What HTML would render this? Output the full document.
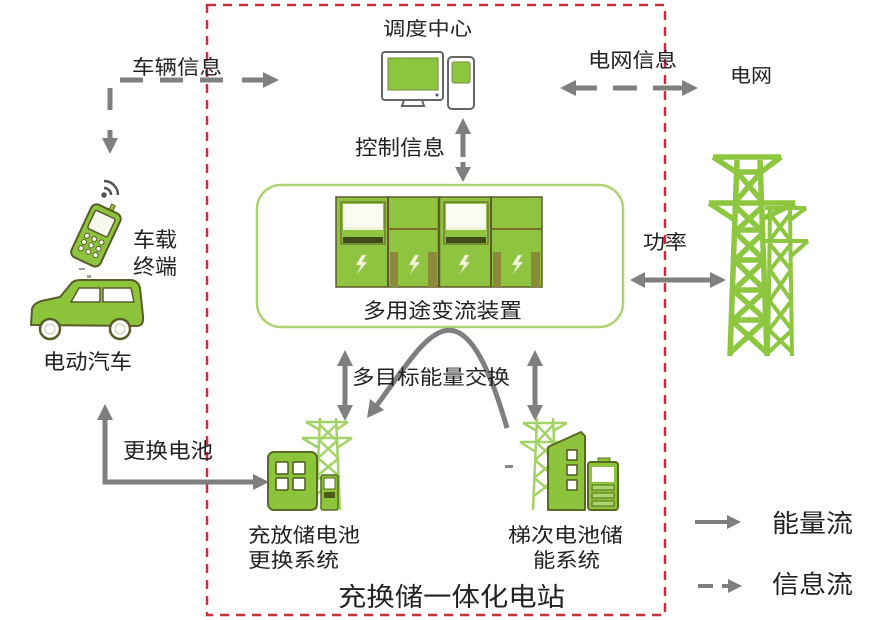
<!DOCTYPE html>
<html><head><meta charset="utf-8"><style>
html,body{margin:0;padding:0;background:#fff;}
svg{display:block;}
text{font-family:"Liberation Sans","Noto Sans CJK SC",sans-serif;fill:#222;}
</style></head><body>
<svg width="871" height="620" viewBox="0 0 871 620" xmlns="http://www.w3.org/2000/svg">
<rect width="871" height="620" fill="#fff"/>

<!-- red dashed station boundary -->
<rect x="207" y="5" width="458" height="610" fill="none" stroke="#c8323a" stroke-width="2.5" stroke-dasharray="9 7"/>

<!-- green rounded box -->
<rect x="257" y="185" width="366" height="142" rx="24" fill="none" stroke="#a9d46f" stroke-width="2.5"/>

<!-- cabinets -->
<g>
  <rect x="336" y="197" width="206" height="90" fill="#8fc441" stroke="#5e5a2a" stroke-width="1.5"/>
  <line x1="388" y1="197" x2="388" y2="287" stroke="#5e5a2a" stroke-width="2"/>
  <line x1="439" y1="197" x2="439" y2="287" stroke="#5e5a2a" stroke-width="2.5"/>
  <line x1="491" y1="197" x2="491" y2="287" stroke="#5e5a2a" stroke-width="2"/>
  <rect x="341" y="202" width="44" height="42" fill="#8fc441" stroke="#6b6a2c" stroke-width="1.2"/>
  <rect x="343" y="204" width="40" height="23" fill="#fbfbf3"/>
  <rect x="343" y="227" width="40" height="3" fill="#eef2d6"/>
  <rect x="343" y="237" width="40" height="6" fill="#3f4a18"/>
  <rect x="444" y="202" width="44" height="42" fill="#8fc441" stroke="#6b6a2c" stroke-width="1.2"/>
  <rect x="446" y="204" width="40" height="23" fill="#fbfbf3"/>
  <rect x="446" y="227" width="40" height="3" fill="#eef2d6"/>
  <rect x="446" y="237" width="40" height="6" fill="#3f4a18"/>
  <line x1="388" y1="229" x2="439" y2="229" stroke="#7a6a2a" stroke-width="2"/>
  <line x1="491" y1="229" x2="542" y2="229" stroke="#7a6a2a" stroke-width="2"/>
  <rect x="390" y="252" width="8" height="35" fill="#8a8a3a"/>
  <rect x="428" y="252" width="9" height="35" fill="#8a8a3a"/>
  <rect x="493" y="252" width="8" height="35" fill="#8a8a3a"/>
  <rect x="531" y="252" width="9" height="35" fill="#8a8a3a"/>
  <g fill="#f4f6dc" stroke="#c8cf9a" stroke-width="0.6">
    <polygon points="362,255 356,265 361,265 357,274 367,262 362,262 366,255"/>
    <polygon points="415,255 409,265 414,265 410,274 420,262 415,262 419,255"/>
    <polygon points="465,255 459,265 464,265 460,274 470,262 465,262 469,255"/>
    <polygon points="518,255 512,265 517,265 513,274 523,262 518,262 522,255"/>
  </g>
</g>

<!-- computer -->
<g stroke="#666" stroke-width="2" fill="#fff">
  <rect x="382" y="52" width="61" height="48" rx="3"/>
  <rect x="448" y="57" width="26" height="52" rx="4"/>
</g>
<rect x="388" y="58" width="50" height="32" fill="#8cc63f" stroke="#7a8a3a" stroke-width="1"/>
<circle cx="437" cy="95" r="1.5" fill="#555"/>
<polygon points="404,100 422,100 424,106 402,106" fill="#fff" stroke="#666" stroke-width="2"/>
<rect x="452" y="62" width="18" height="21" rx="2" fill="#8cc63f" stroke="#7a8a3a" stroke-width="1"/>

<!-- arrows (grey) -->
<g fill="#7f7f7f" stroke="none">
  <rect x="120" y="77.5" width="23" height="5"/>
  <rect x="160" y="77.5" width="23" height="5"/>
  <rect x="200" y="77.5" width="23" height="5"/>
  <rect x="242" y="77.5" width="22" height="5"/>
  <polygon points="279,80 263,72 263,88"/>
  <rect x="107.5" y="88" width="5" height="22"/>
  <rect x="107.5" y="130" width="5" height="9"/>
  <polygon points="110,154 102,138 118,138"/>
  <polygon points="560,88 576,80 576,96"/>
  <rect x="575" y="85.5" width="22" height="5"/>
  <rect x="613" y="85.5" width="24" height="5"/>
  <rect x="653" y="85.5" width="30" height="5"/>
  <polygon points="698,88 682,80 682,96"/>
  <polygon points="463,118 455,134 471,134"/>
  <rect x="460.5" y="133" width="5" height="24"/>
  <rect x="460.5" y="162" width="5" height="6"/>
  <polygon points="463,182 455,167 471,167"/>
  <polygon points="630,280 645,272 645,288"/>
  <rect x="644" y="277.5" width="67" height="5"/>
  <polygon points="726,280 710,272 710,288"/>
  <polygon points="345,350 337,366 353,366"/>
  <rect x="342.5" y="365" width="5" height="41"/>
  <polygon points="345,421 337,405 353,405"/>
  <polygon points="535,350 527,366 543,366"/>
  <rect x="532.5" y="365" width="5" height="41"/>
  <polygon points="535,421 527,405 543,405"/>
  <polygon points="105,404 97,420 113,420"/>
  <polygon points="269,482 253,474 253,490"/>
  <polygon points="367,418 384,410 370,399"/>
  <rect x="695" y="520" width="33" height="4"/>
  <polygon points="741,522 727,515 727,529"/>
  <rect x="698" y="584" width="15" height="4"/>
  <rect x="722" y="584" width="7" height="4"/>
  <polygon points="742,586 728,579 728,593"/>
</g>
<path d="M105,419 L105,482 L254,482" fill="none" stroke="#7f7f7f" stroke-width="5"/>
<path d="M507,428 C460,265 425,341 377,405" fill="none" stroke="#7f7f7f" stroke-width="5"/>
<rect x="505" y="465" width="8" height="3" fill="#8a8a8a"/>

<!-- small towers -->
<g stroke="#a3d266" stroke-width="2.5" fill="none">
  <path d="M320,418 L316,510 M336,418 L340,510"/>
  <path d="M306,422 L348,422 M302,438 L352,438 M306,422 L320,430 M348,422 L336,430 M302,438 L319,448 M352,438 L337,448"/>
  <path d="M320,425 L336,440 M336,425 L320,440 M319,440 L338,458 M338,440 L318,458 M318,458 L339,476 M339,458 L317,476 M317,476 L340,494 M340,476 L317,494"/>
  <path d="M537,418 L533,510 M553,418 L557,510"/>
  <path d="M523,423 L567,423 M520,442 L570,442 M523,423 L537,431 M567,423 L553,431 M520,442 L536,452 M570,442 L554,452"/>
  <path d="M537,425 L553,442 M553,425 L537,442 M536,442 L555,460 M555,442 L535,460 M535,460 L556,478 M556,460 L534,478 M534,478 L557,496 M557,478 L534,496"/>
</g>

<!-- left building -->
<rect x="268" y="452" width="49" height="58" rx="6" fill="#8cc43c" stroke="#5a6a20" stroke-width="2"/>
<g fill="#fff" stroke="#4d5a1c" stroke-width="1.5">
  <rect x="276" y="462" width="12" height="12" rx="1"/>
  <rect x="293" y="462" width="12" height="12" rx="1"/>
  <rect x="276" y="478" width="12" height="12" rx="1"/>
  <rect x="293" y="478" width="12" height="12" rx="1"/>
</g>
<rect x="321" y="475" width="17" height="35" rx="2" fill="#8cc43c" stroke="#5a6a20" stroke-width="1.5"/>
<rect x="324" y="478" width="11" height="11" fill="#fff" stroke="#5a6a20" stroke-width="1"/>
<rect x="324" y="492" width="11" height="6" fill="#4d5a1c"/>

<!-- right building & battery -->
<polygon points="548,447 581,432 585,436 585,510 548,510" fill="#8cc43c" stroke="#5a6a20" stroke-width="2" stroke-linejoin="round"/>
<g fill="#fff" stroke="#4d5a1c" stroke-width="1.5">
  <rect x="567" y="450" width="10" height="10"/>
  <rect x="567" y="465" width="10" height="10"/>
  <rect x="567" y="480" width="10" height="10"/>
</g>
<rect x="598" y="458" width="12" height="5" fill="#8cc43c" stroke="#5a6a20" stroke-width="1"/>
<rect x="588" y="462" width="30" height="48" rx="3" fill="#8cc43c" stroke="#5a6a20" stroke-width="2"/>
<rect x="592" y="467" width="22" height="15" fill="#fff"/>
<g fill="#a8d66a" stroke="#5a6a20" stroke-width="1">
  <rect x="592" y="485" width="22" height="5"/>
  <rect x="592" y="493" width="22" height="5"/>
  <rect x="592" y="501" width="22" height="5"/>
</g>

<!-- big towers -->
<g stroke="#8dc63f" stroke-width="5.5" fill="none" stroke-linejoin="round">
  <path d="M737,160 L730,356 M760,160 L767,356"/>
  <path d="M713,157 L781,157 M713,157 L736,172 M781,157 L761,172"/>
  <path d="M709,203 L795,203 M709,203 L735,220 M795,203 L764,218"/>
  <path d="M736,172 L761,172 M735,230 L763,230 M734,260 L764,260 M733,290 L765,290 M731,320 L766,320"/>
  <path d="M737,172 L761,200 M761,172 L737,200 M735,206 L763,232 M763,206 L735,232 M735,232 L764,260 M764,232 L735,260 M734,260 L765,290 M765,260 L734,290 M733,290 L766,320 M766,290 L733,320 M731,320 L766,352 M766,320 L731,352"/>
</g>
<g stroke="#8dc63f" stroke-width="4" fill="none">
  <path d="M770,210 L768,356 M790,210 L792,356"/>
  <path d="M765,208 L806,208 M806,208 L790,220 M765,241 L808,241 M808,241 L791,256"/>
  <path d="M770,214 L790,240 M790,214 L770,240 M770,244 L791,270 M791,244 L770,270 M770,270 L791,300 M791,270 L770,300 M769,300 L792,330 M792,300 L769,330 M769,330 L792,352 M792,330 L769,352"/>
</g>

<!-- wifi -->
<g stroke="#555" stroke-width="2.5" fill="none">
  <circle cx="104" cy="195" r="1.5" fill="#555"/>
  <path d="M104,188 A7,7 0 0 1 111,195"/>
  <path d="M104,181 A14,14 0 0 1 118,195"/>
</g>
<!-- phone -->
<g transform="rotate(25 95 235)">
  <rect x="97" y="200" width="4" height="8" fill="#8cc43c" stroke="#5a5a28" stroke-width="1"/>
  <rect x="80" y="206" width="32" height="58" rx="6" fill="#8cc43c" stroke="#5a5a28" stroke-width="2"/>
  <rect x="85" y="212" width="22" height="20" rx="2" fill="#f6f8ee" stroke="#5a5a28" stroke-width="1.5"/>
  <g fill="#f6f8ee" stroke="#5a5a28" stroke-width="1">
    <circle cx="88" cy="239" r="2.5"/><circle cx="96" cy="239" r="2.5"/><circle cx="104" cy="239" r="2.5"/>
    <circle cx="88" cy="246" r="2.5"/><circle cx="96" cy="246" r="2.5"/><circle cx="104" cy="246" r="2.5"/>
    <circle cx="88" cy="253" r="2.5"/><circle cx="96" cy="253" r="2.5"/><circle cx="104" cy="253" r="2.5"/>
  </g>
</g>
<rect x="79" y="268" width="6" height="2" fill="#a0a0a0"/>
<rect x="87" y="275" width="4" height="3" fill="#a0a0a0"/>

<!-- car -->
<path d="M31,325 L32,309 Q34,302 46,300 L60,297 L70,285 Q73,280 80,280 L130,280 Q138,280 140,288 L143,316 Q144,326 137,326 Z" fill="#8cc43c" stroke="#5b5b28" stroke-width="2" stroke-linejoin="round"/>
<polygon points="71,302 79,288 100,288 100,302" fill="#fff" stroke="#5b5b28" stroke-width="1.5"/>
<polygon points="103,288 131,288 134,302 103,302" fill="#fff" stroke="#5b5b28" stroke-width="1.5"/>
<circle cx="50" cy="329" r="10" fill="#fff" stroke="#5b5b28" stroke-width="2.5"/>
<circle cx="120" cy="329" r="10" fill="#fff" stroke="#5b5b28" stroke-width="2.5"/>
<circle cx="50" cy="329" r="5" fill="none" stroke="#c8c8b0" stroke-width="1"/>
<circle cx="120" cy="329" r="5" fill="none" stroke="#c8c8b0" stroke-width="1"/>

<!-- labels -->
<text x="383" y="35" font-size="19" textLength="89" lengthAdjust="spacingAndGlyphs">调度中心</text>
<text x="132" y="74" font-size="20" textLength="90" lengthAdjust="spacingAndGlyphs">车辆信息</text>
<text x="588" y="67" font-size="20" textLength="89" lengthAdjust="spacingAndGlyphs">电网信息</text>
<text x="730" y="82" font-size="19" textLength="42" lengthAdjust="spacingAndGlyphs">电网</text>
<text x="355" y="155" font-size="21" textLength="90" lengthAdjust="spacingAndGlyphs">控制信息</text>
<text x="133" y="247" font-size="21" textLength="44" lengthAdjust="spacingAndGlyphs">车载</text>
<text x="133" y="274" font-size="21" textLength="44" lengthAdjust="spacingAndGlyphs">终端</text>
<text x="43" y="369" font-size="21" textLength="89" lengthAdjust="spacingAndGlyphs">电动汽车</text>
<text x="363" y="318" font-size="21" textLength="159" lengthAdjust="spacingAndGlyphs">多用途变流装置</text>
<text x="643" y="249" font-size="20" textLength="44" lengthAdjust="spacingAndGlyphs">功率</text>
<text x="352" y="384" font-size="20" textLength="158" lengthAdjust="spacingAndGlyphs">多目标能量交换</text>
<text x="123" y="458" font-size="21" textLength="90" lengthAdjust="spacingAndGlyphs">更换电池</text>
<text x="248" y="542" font-size="20" textLength="112" lengthAdjust="spacingAndGlyphs">充放储电池</text>
<text x="248" y="567" font-size="20" textLength="91" lengthAdjust="spacingAndGlyphs">更换系统</text>
<text x="508" y="542" font-size="20" textLength="115" lengthAdjust="spacingAndGlyphs">梯次电池储</text>
<text x="533" y="567" font-size="20" textLength="67" lengthAdjust="spacingAndGlyphs">能系统</text>
<text x="338" y="606" font-size="26" textLength="227" lengthAdjust="spacingAndGlyphs">充换储一体化电站</text>
<text x="772" y="532" font-size="25" textLength="81" lengthAdjust="spacingAndGlyphs">能量流</text>
<text x="772" y="593" font-size="25" textLength="81" lengthAdjust="spacingAndGlyphs">信息流</text>
</svg>
</body></html>
